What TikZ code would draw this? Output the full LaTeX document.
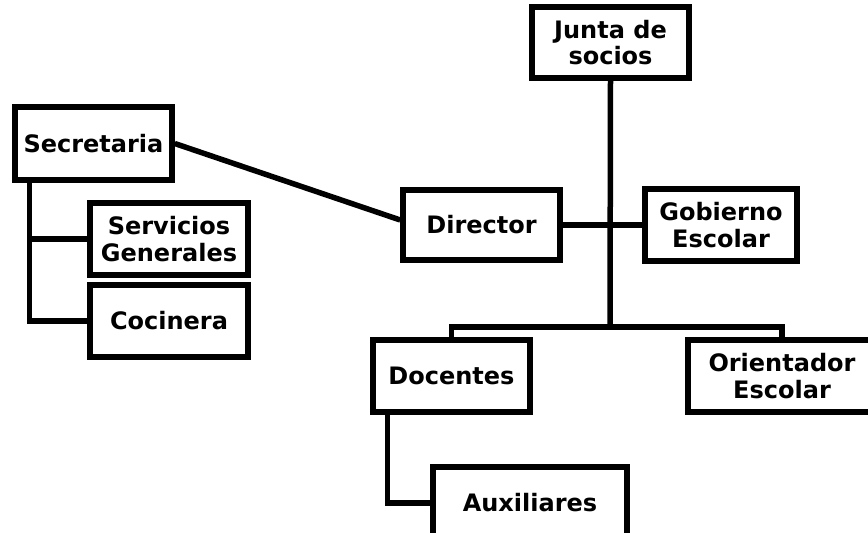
\documentclass[tikz,border=0pt]{standalone}
\usepackage{fontspec}
\setmainfont{DejaVu Sans}
\usepackage{tikz}

\begin{document}
\begin{tikzpicture}[x=1pt, y=-1pt,
    cargo/.style={draw, line width=5.5pt, fill=white, inner sep=0pt, align=center,
      minimum height=72pt, font=\bfseries\fontsize{24}{26.5}\selectfont},
    enlace/.style={line width=5.5pt}]
        \useasboundingbox (0,0) rectangle (868,533);
        \clip (0,0) rectangle (868,533);
        % Boxes
        \node[cargo, minimum width=157pt, minimum height=71pt] (junta) at (610.5,42.5) {Junta de\\socios};
        \node[cargo, minimum width=157pt, minimum height=73pt] (secretaria) at (93.5,143.5) {Secretaria};
        \node[cargo, minimum width=157pt, minimum height=70pt] (director) at (481.5,225) {Director};
        \node[cargo, minimum width=152pt] (gobierno) at (721,225) {Gobierno\\Escolar};
        \node[cargo, minimum width=158pt] (servicios) at (169,239) {Servicios\\Generales};
        \node[cargo, minimum width=158pt] (cocinera) at (169,321) {Cocinera};
        \node[cargo, minimum width=157pt] (docentes) at (451.5,376) {Docentes};
        \node[cargo, minimum width=188pt] (orientador) at (782,376) {Orientador\\Escolar};
        \node[cargo, minimum width=194pt] (auxiliares) at (530,503) {Auxiliares};
        % Main trunk
        \coordinate (bus) at (610,327);
        \draw[enlace] (junta.south) -- (bus);
        \draw[enlace] (director.east) -- (gobierno.west);
        \draw[enlace] (docentes.north) |- (bus) -| (orientador.north);
        % Secretaria
        \draw[enlace] (secretaria.east) -- ([yshift=5pt]director.west);
        \coordinate (s1) at ([xshift=17pt]secretaria.south west);
        \draw[enlace] (s1) |- (cocinera.west);
        \draw[enlace] (s1 |- servicios.west) -- (servicios.west);
        % Docentes
        \draw[enlace] ([xshift=17pt]docentes.south west) |- (auxiliares.west);
\end{tikzpicture}
\end{document}
